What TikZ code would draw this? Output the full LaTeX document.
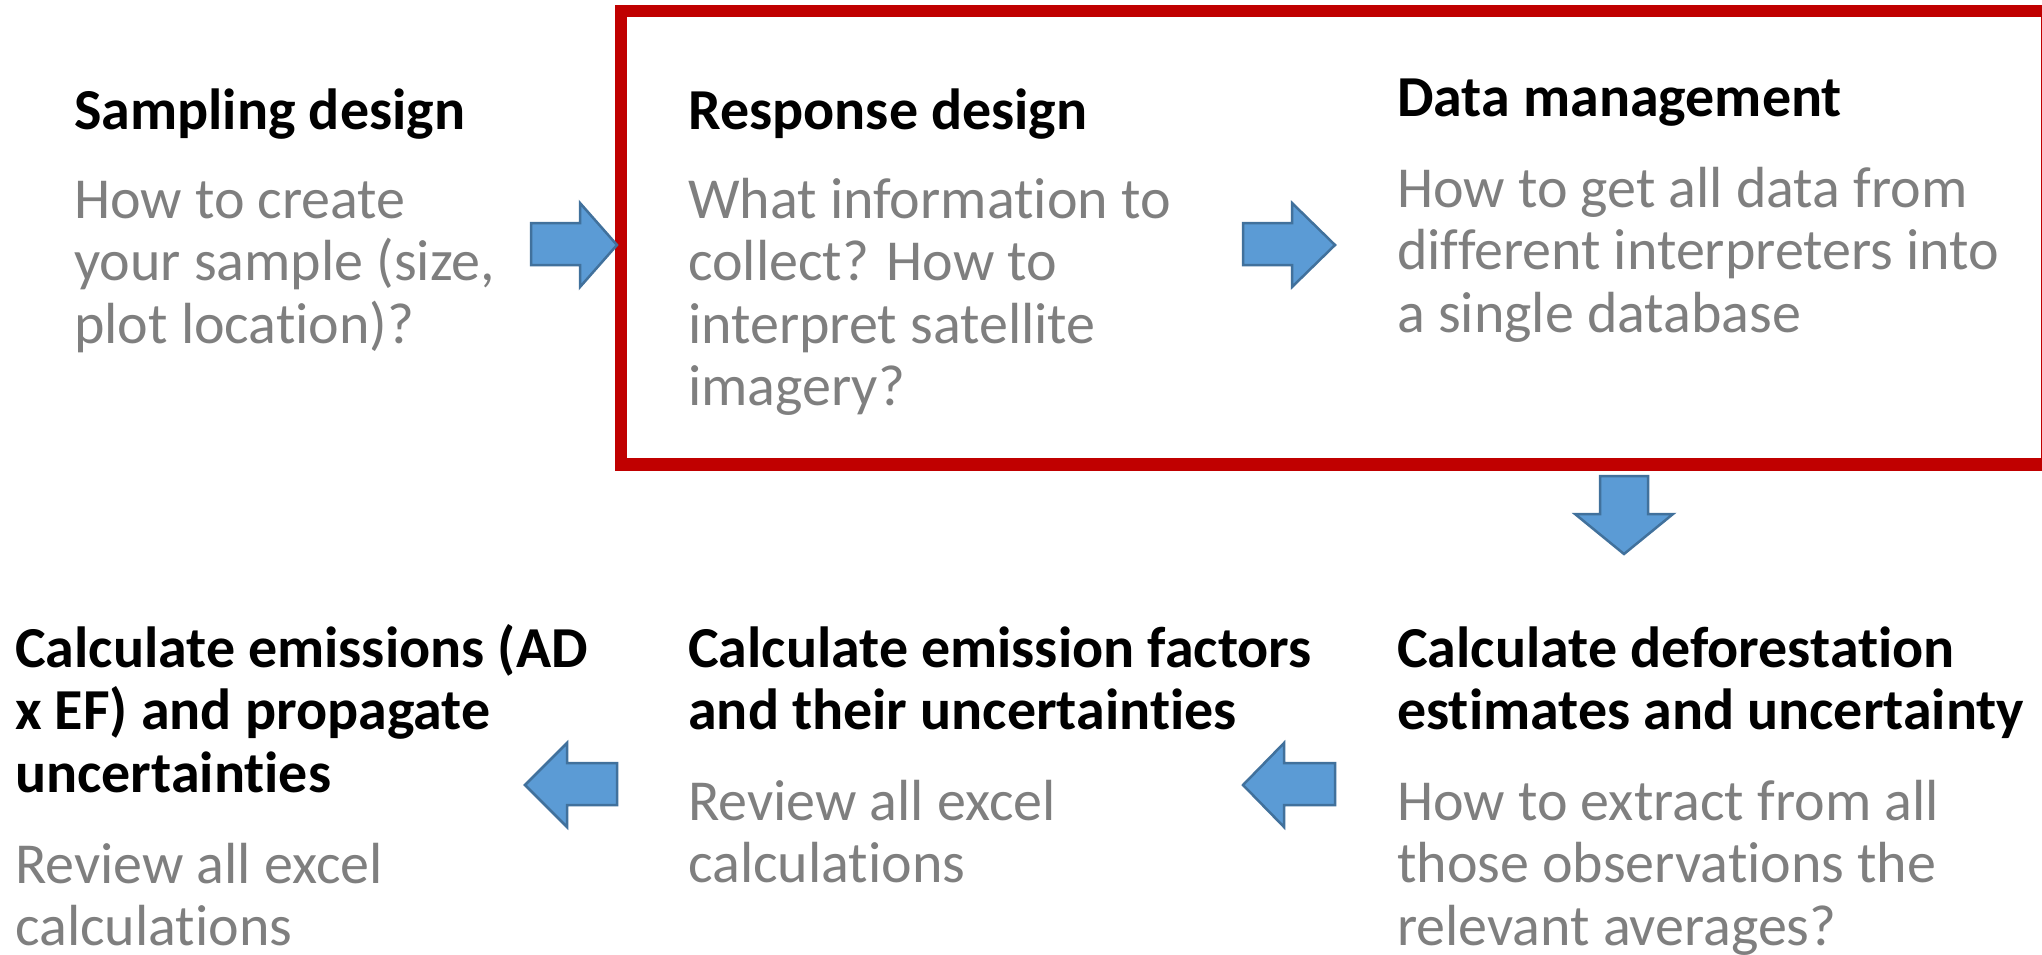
\documentclass[tikz,border=0pt]{standalone}
\usepackage{fontspec}
\setmainfont[Ligatures=NoCommon]{Carlito}
\definecolor{redframe}{HTML}{C00000}
\definecolor{arrowfill}{HTML}{5B9BD5}
\definecolor{arrowline}{HTML}{41719C}
\definecolor{graytext}{HTML}{7F7F7F}
\begin{document}
\begin{tikzpicture}[x=1pt,y=-1pt,
  title/.style={anchor=base west, inner sep=0pt, align=left, font=\fontsize{58}{62.5}\selectfont\bfseries, text=black},
  desc/.style={anchor=base west, inner sep=0pt, align=left, font=\fontsize{58}{62.5}\selectfont, text=graytext},
  blockarrow/.style={fill=arrowfill, draw=arrowline, line width=2.5pt, line join=miter}]
\useasboundingbox (0,0) rectangle (2042,955);
\fill[white] (0,0) rectangle (2042,955);
% red frame
\draw[redframe, line width=12.5pt] (621,11) rectangle (2047,464.5);
% top row (anchors are at the baseline of the last line)
\node[title] (t1) at (74,129) {Sampling design};
\node[desc]  (d1) at (74,343) {How to create\\your sample (size,\\plot location)?};
\node[title] (t2) at (688,129) {Response design};
\node[desc]  (d2) at (688,405.5) {What information to\\collect? How to\\interpret satellite\\imagery?};
\node[title] (t3) at (1397,117) {Data management};
\node[desc]  (d3) at (1397,332) {How to get all data from\\different interpreters into\\a single database};
% bottom row
\node[title] (t4) at (1397,729.5) {Calculate deforestation\\estimates and uncertainty};
\node[desc]  (d4) at (1397,945) {How to extract from all\\those observations the\\relevant averages?};
\node[title] (t5) at (688,729.5) {Calculate emission factors\\and their uncertainties};
\node[desc]  (d5) at (688,882.5) {Review all excel\\calculations};
\node[title] (t6) at (15,792) {Calculate emissions (AD\\x EF) and propagate\\uncertainties};
\node[desc]  (d6) at (15,945.5) {Review all excel\\calculations};
% block arrows
\draw[blockarrow] (531,223) -- (580,223) -- (580,203) -- (617,245) -- (580,287) -- (580,265) -- (531,265) -- cycle;
\draw[blockarrow] (1243,223) -- (1292,223) -- (1292,203) -- (1335,245) -- (1292,287) -- (1292,265) -- (1243,265) -- cycle;
\draw[blockarrow] (1600,476) -- (1648,476) -- (1648,514) -- (1673,514) -- (1624,554) -- (1575,514) -- (1600,514) -- cycle;
\draw[blockarrow] (1335,763) -- (1284,763) -- (1284,743) -- (1243,785) -- (1284,827) -- (1284,805) -- (1335,805) -- cycle;
\draw[blockarrow] (617,763) -- (567,763) -- (567,743) -- (525,785) -- (567,827) -- (567,805) -- (617,805) -- cycle;
\end{tikzpicture}
\end{document}
